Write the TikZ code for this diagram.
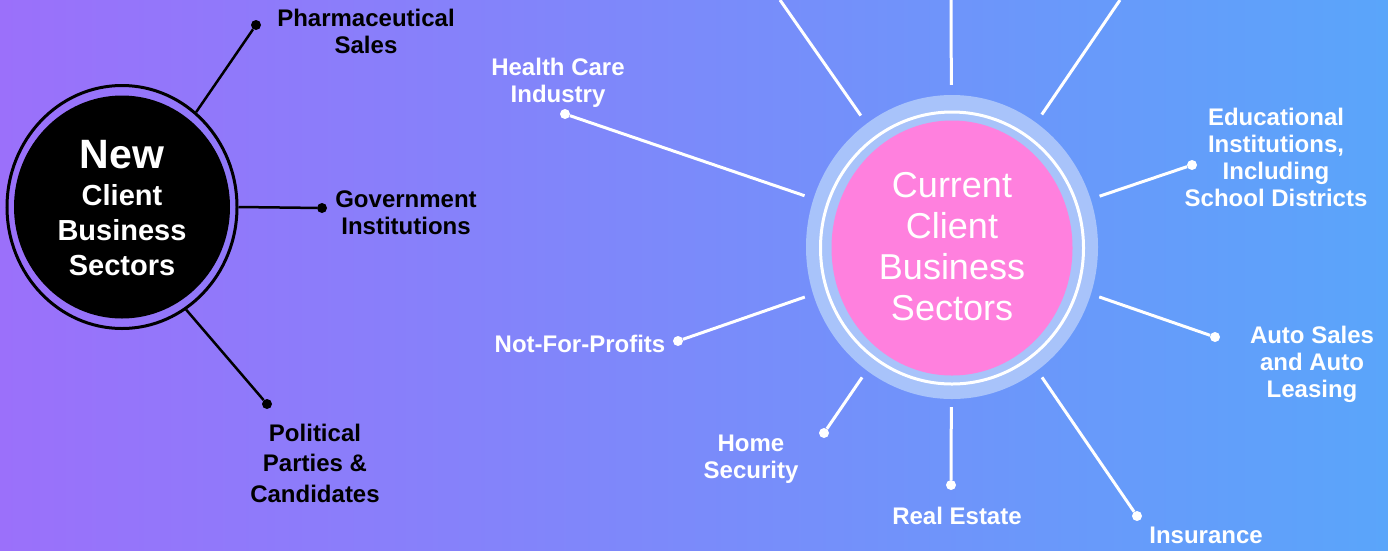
\documentclass[tikz,border=0pt]{standalone}
\usepackage{fontspec}
\setmainfont{Liberation Sans}
\usetikzlibrary{shapes.geometric}
\definecolor{bgleft}{RGB}{155,112,250}
\definecolor{bgright}{RGB}{90,165,250}
\definecolor{halo}{RGB}{168,195,250}
\definecolor{curpink}{RGB}{255,128,222}
\tikzset{
  wdot/.style={circle, fill=white, inner sep=0pt, minimum size=10pt},
  bdot/.style={circle, fill=black, inner sep=0pt, minimum size=10pt},
  wlabel/.style={white, align=center, font=\fontsize{24}{27}\selectfont\bfseries},
  blabel/.style={black, align=center, font=\fontsize{24}{27}\selectfont\bfseries},
  spoke/.style={white, line width=3pt},
  stalk/.style={black, line width=2.5pt},
  oval/.style={ellipse, inner sep=0pt},
}
\begin{document}
\begin{tikzpicture}[x=1pt,y=-1pt]
\useasboundingbox (0,0) rectangle (1388,550);
\shade[left color=bgleft, right color=bgright] (0,0) rectangle (1388,550);
% new sectors
\node[oval, draw=black, line width=3pt, minimum width=230pt, minimum height=243pt] (newring) at (122,207) {};
\node[oval, fill=black, minimum width=216pt, minimum height=223pt] (newdisk) at (122,207) {};
\node[white, align=center, font=\fontsize{29}{35}\selectfont\bfseries] (newtext) at (122,208)
  {{\fontsize{41}{41}\selectfont New}\\[2pt] Client\\ Business\\ Sectors};
\node[bdot] (dpharma) at (256,25) {};
\node[bdot] (dgov) at (322,208) {};
\node[bdot] (dpolit) at (267,404) {};
\node[blabel] (lpharma) at (366,31) {Pharmaceutical\\ Sales};
\node[blabel] (lgov) at (406,213) {Government\\ Institutions};
\node[blabel, font=\fontsize{24}{30.5}\selectfont\bfseries] (lpolit) at (315,463) {Political\\ Parties \&\\ Candidates};
\path [stalk]
    (newring.52) edge (dpharma)
    (newring.0) edge (dgov)
    (newring.-58) edge (dpolit);
% current sectors
\node[oval, fill=halo, minimum width=292pt, minimum height=304pt] (curhalo) at (952,247) {};
\node[oval, draw=white, line width=3pt, minimum width=263pt, minimum height=272pt] (curring) at (952,248) {};
\node[oval, fill=curpink, minimum width=241pt, minimum height=255pt] (cur) at (952,248) {};
\node[white, align=center, font=\fontsize{36}{41}\selectfont] (curtext) at (952,247)
  {Current\\ Client\\ Business\\ Sectors};
\node[oval, minimum width=310pt, minimum height=322pt] (curspan) at (952,246) {};
\coordinate (ctopl) at (780,0);
\coordinate (ctop) at (951,0);
\coordinate (ctopr) at (1120,0);
\node[wdot] (dhealth) at (565,114) {};
\node[wdot] (dedu) at (1192,165) {};
\node[wdot] (dnfp) at (678,341) {};
\node[wdot] (dauto) at (1215,337) {};
\node[wdot] (dhome) at (824,433) {};
\node[wdot] (dreal) at (951,485) {};
\node[wdot] (dins) at (1137,516) {};
\node[wlabel] (lhealth) at (558,83) {Health Care\\ Industry};
\node[wlabel] (ledu) at (1276,157) {Educational\\ Institutions,\\ Including\\ School Districts};
\node[wlabel] (lnfp) at (580,344) {Not-For-Profits};
\node[wlabel] (lauto) at (1312,364) {Auto Sales\\ and Auto\\ Leasing};
\node[wlabel] (lhome) at (751,459) {Home\\ Security};
\node[wlabel] (lreal) at (957,516) {Real Estate};
\node[wlabel] (lins) at (1206,535) {Insurance};
\path [spoke]
    (curspan) edge (ctopl)
    (curspan) edge (ctop)
    (curspan) edge (ctopr)
    (curspan) edge (dhealth)
    (curspan) edge (dedu)
    (curspan) edge (dnfp)
    (curspan) edge (dauto)
    (curspan) edge (dhome)
    (curspan) edge (dreal)
    (curspan) edge (dins);
\end{tikzpicture}
\end{document}
